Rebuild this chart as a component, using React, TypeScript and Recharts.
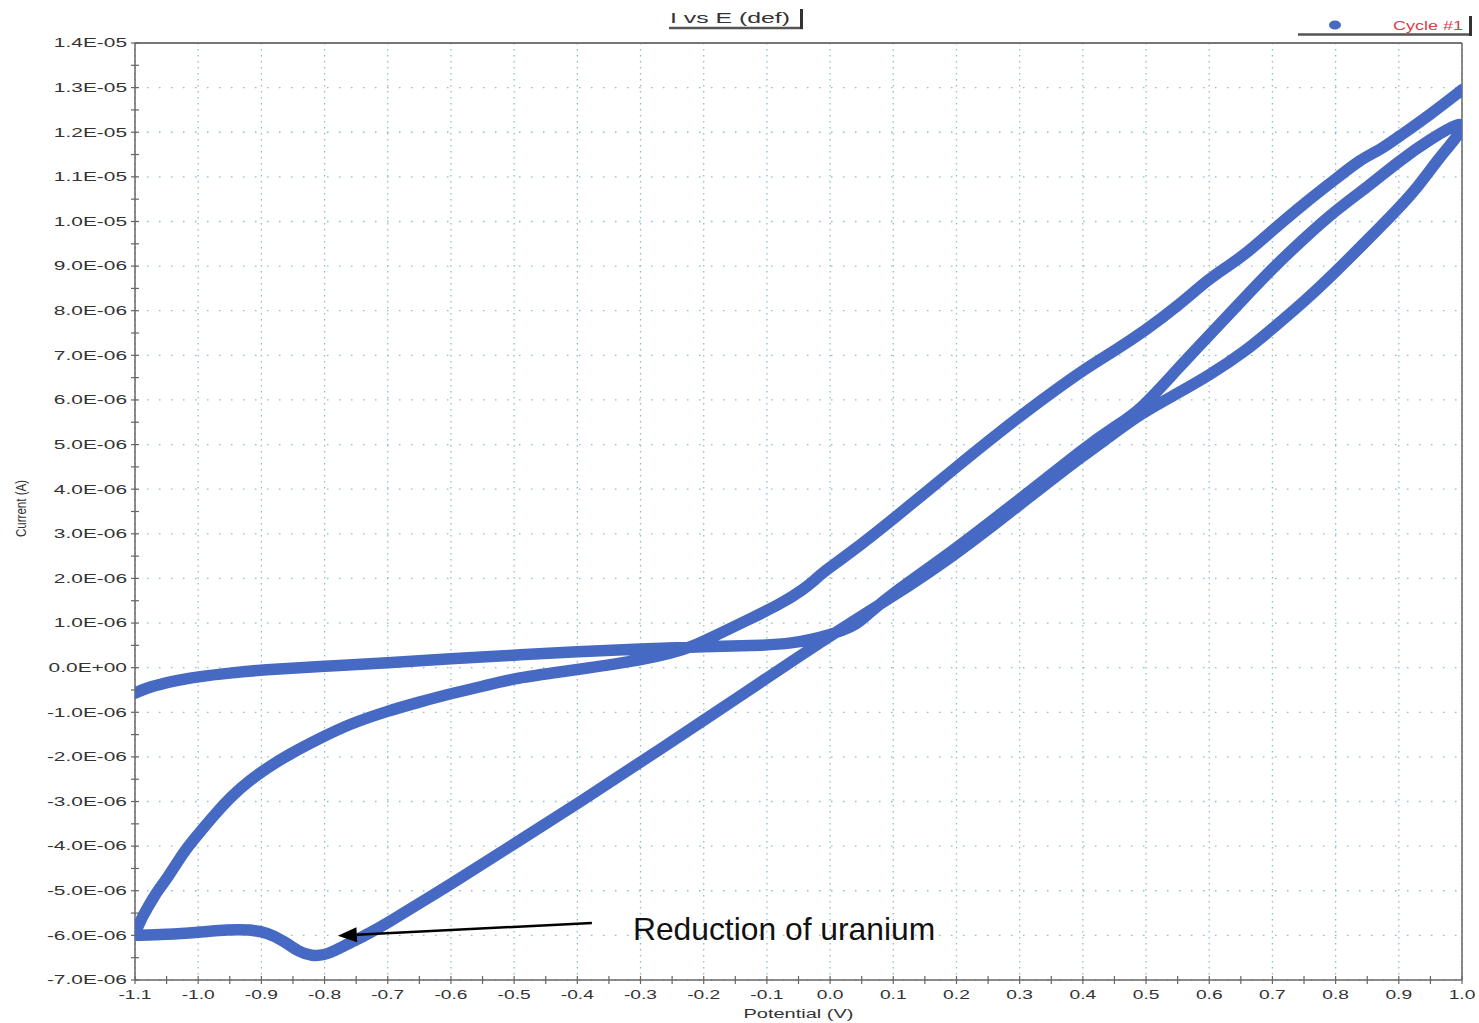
import React from "react";
import {
  CartesianGrid,
  Label,
  ReferenceDot,
  ReferenceLine,
  Scatter,
  ScatterChart,
  XAxis,
  YAxis,
} from "recharts";

const BLUE = "#4669c3";
const AXIS = "#666";
const GRID = "#8fbccb";
const FONT = '"Liberation Sans", Arial, sans-serif';

// potential in V, current in µA
// 1st sweep: from -1.1 V towards +1.0 V (flat branch, then middle line)
const SWEEP1_E = [
  -1.1, -1.08, -1.06, -1.03, -1.0, -0.95, -0.9, -0.8, -0.7, -0.6, -0.5, -0.4,
  -0.3, -0.2, -0.1, -0.06, -0.03, 0.0, 0.02, 0.04, 0.06, 0.1, 0.19, 0.27, 0.33,
  0.4, 0.45, 0.49, 0.55, 0.6, 0.65, 0.7, 0.75, 0.8, 0.85, 0.9, 0.95, 1.0,
];
const SWEEP1_I = [
  -0.57, -0.45, -0.37, -0.28, -0.2, -0.12, -0.05, 0.03, 0.11, 0.2, 0.28, 0.36,
  0.42, 0.47, 0.5, 0.55, 0.63, 0.74, 0.84, 0.95, 1.2, 1.68, 2.57, 3.45, 4.1,
  4.9, 5.4, 5.75, 6.7, 7.45, 8.2, 8.95, 9.62, 10.25, 10.77, 11.35, 11.85, 12.25,
];

// reverse sweep: +1.0 V back to -1.1 V (lowest line, uranium reduction dip)
const REVERSE_E = [
  1.0, 0.99, 0.965, 0.93, 0.9, 0.85, 0.8, 0.75, 0.7, 0.66, 0.6, 0.55, 0.49,
  0.45, 0.4, 0.33, 0.27, 0.19, 0.1, 0.0, -0.13, -0.27, -0.4, -0.5, -0.6, -0.65,
  -0.7, -0.73, -0.76, -0.785, -0.8, -0.82, -0.84, -0.865, -0.89, -0.92, -0.95,
  -1.0, -1.05, -1.1,
];
const REVERSE_I = [
  12.1, 11.85, 11.45, 10.77, 10.3, 9.58, 8.87, 8.2, 7.6, 7.12, 6.55, 6.15, 5.68,
  5.25, 4.75, 3.98, 3.32, 2.45, 1.6, 0.72, -0.52, -1.84, -3.05, -3.95, -4.85,
  -5.28, -5.72, -5.96, -6.17, -6.35, -6.44, -6.46, -6.38, -6.12, -5.94, -5.87,
  -5.87, -5.93, -5.98, -6.0,
];

// 2nd forward sweep: -1.1 V up to +1.0 V (steep branch, top line)
const RETURN_E = [
  -1.1, -1.097, -1.092, -1.087, -1.08, -1.072, -1.064, -1.049, -1.034, -1.018,
  -0.997, -0.97, -0.945, -0.918, -0.891, -0.86, -0.8, -0.76, -0.7, -0.65, -0.6,
  -0.55, -0.5, -0.44, -0.36, -0.3, -0.25, -0.22, -0.18, -0.13, -0.075, -0.04,
  -0.025, -0.015, 0.03, 0.1, 0.2, 0.27, 0.33, 0.4, 0.45, 0.5, 0.55, 0.6, 0.63,
  0.66, 0.7, 0.75, 0.8, 0.84, 0.87, 0.9, 0.95, 1.0,
];
const RETURN_I = [
  -6.0, -5.85, -5.7, -5.55, -5.38, -5.18, -5.0, -4.72, -4.38, -4.04, -3.68,
  -3.23, -2.85, -2.52, -2.25, -1.97, -1.53, -1.26, -0.97, -0.77, -0.58, -0.42,
  -0.24, -0.12, 0.04, 0.17, 0.33, 0.46, 0.73, 1.07, 1.45, 1.78, 1.95, 2.1, 2.55,
  3.33, 4.5, 5.3, 5.95, 6.67, 7.1, 7.57, 8.1, 8.72, 9.0, 9.3, 9.8, 10.4, 10.95,
  11.4, 11.6, 11.9, 12.4, 12.95,
];

const X_TICKS = [
  -1.1, -1.0, -0.9, -0.8, -0.7, -0.6, -0.5, -0.4, -0.3, -0.2, -0.1, 0.0, 0.1,
  0.2, 0.3, 0.4, 0.5, 0.6, 0.7, 0.8, 0.9, 1.0,
];
const Y_TICKS = [
  -7, -6, -5, -4, -3, -2, -1, 0, 1, 2, 3, 4, 5, 6, 7, 8, 9, 10, 11, 12, 13, 14,
];

const ARROW_FROM = { x: -0.377, y: -5.72 };
const ARROW_TO = { x: -0.779, y: -6.01 };
const NOTE = { x: -0.312, y: -6.1, text: "Reduction of uranium" };

const toRows = (e: number[], i: number[]) => e.map((x, k) => ({ x, y: i[k] }));
const LOOP = [
  ...toRows(SWEEP1_E, SWEEP1_I),
  ...toRows(REVERSE_E, REVERSE_I),
  ...toRows(RETURN_E, RETURN_I),
];

// minor ticks halfway between labelled ones
const halfSteps = (t: number[]) =>
  t.flatMap((v, k) => (k === 0 ? [v] : [(t[k - 1] + v) / 2, v]));
const X_ALL = halfSteps(X_TICKS);
const Y_ALL = halfSteps(Y_TICKS);
const isMajor = (v: number, list: number[]) =>
  list.some((t) => Math.abs(t - v) < 1e-9);

const fmtCurrent = (ua: number) => {
  if (Math.abs(ua) < 1e-9) return "0.0E+00";
  const big = Math.abs(ua) >= 10;
  return `${(big ? ua / 10 : ua).toFixed(1)}E-0${big ? 5 : 6}`;
};

// rough Arial advance widths, used to stretch the wide scanned tick font
const CHAR_W: Record<string, number> = { ".": 0.278, "-": 0.333, E: 0.667, "+": 0.584 };
const textW = (s: string, size: number) =>
  [...s].reduce((a, c) => a + (CHAR_W[c] ?? 0.556), 0) * size;

const YTick = (props: any) => {
  const { x, y, payload } = props;
  const axisX = x + 8;
  const label = fmtCurrent(payload.value);
  return (
    <g>
      <line x1={axisX - 4} x2={axisX + 4} y1={y} y2={y} stroke={AXIS} strokeWidth={1.2} />
      {isMajor(payload.value, Y_TICKS) && (
        <text
          x={x}
          y={y}
          dy="0.36em"
          textAnchor="end"
          fontFamily={FONT}
          fontSize={12}
          textLength={textW(label, 12) * 1.74}
          lengthAdjust="spacingAndGlyphs"
          fill="#333"
        >
          {label}
        </text>
      )}
    </g>
  );
};

const XTick = (props: any) => {
  const { x, y, payload } = props;
  const axisY = y - 10;
  const label = payload.value.toFixed(1);
  return (
    <g>
      <line x1={x} x2={x} y1={axisY - 4} y2={axisY + 4} stroke={AXIS} strokeWidth={1.2} />
      {isMajor(payload.value, X_TICKS) && (
        <text
          x={x}
          y={y}
          dy="0.71em"
          textAnchor="middle"
          fontFamily={FONT}
          fontSize={12}
          textLength={textW(label, 12) * 1.6}
          lengthAdjust="spacingAndGlyphs"
          fill="#333"
        >
          {label}
        </text>
      )}
    </g>
  );
};

const ArrowShape = (p: any) => {
  const { x1, y1, x2, y2 } = p;
  const ang = Math.atan2(y2 - y1, x2 - x1);
  const len = 19;
  const half = 7.5;
  const bx = x2 - len * Math.cos(ang);
  const by = y2 - len * Math.sin(ang);
  const px = -Math.sin(ang) * half;
  const py = Math.cos(ang) * half;
  return (
    <g>
      <line x1={x1} y1={y1} x2={bx} y2={by} stroke="#000" strokeWidth={2.5} />
      <polygon
        points={`${x2},${y2} ${bx + px},${by + py} ${bx - px},${by - py}`}
        fill="#000"
      />
    </g>
  );
};

const NoteText = (p: any) => (
  <text x={p.cx} y={p.cy} fontFamily={FONT} fontSize={31.8} fill="#111">
    {NOTE.text}
  </text>
);

const NoDot = () => <g />;

export default function App() {
  return (
    <div style={{ position: "absolute", left: 0, top: 0, width: 1479, height: 1023, background: "#fff" }}>
      <ScatterChart
        width={1479}
        height={1023}
        margin={{ top: 43, right: 17, bottom: 0, left: 0 }}
      >
        <CartesianGrid
          horizontal={false}
          verticalValues={X_TICKS}
          stroke={GRID}
          strokeWidth={1.3}
          strokeDasharray="1.5 4.5"
        />
        <CartesianGrid
          vertical={false}
          horizontalValues={Y_TICKS}
          stroke={GRID}
          strokeWidth={1.3}
          strokeDasharray="1.5 10.5"
        />
        <XAxis
          type="number"
          dataKey="x"
          domain={[-1.1, 1.0]}
          ticks={X_ALL}
          interval={0}
          allowDataOverflow
          height={43}
          tickSize={0}
          tickMargin={10}
          tickLine={false}
          axisLine={{ stroke: AXIS, strokeWidth: 1.5 }}
          tick={(p: any) => <XTick {...p} />}
        >
          <Label
            content={(p: any) => {
              const vb = p.viewBox;
              return (
                <text
                  x={vb.x + vb.width / 2}
                  y={vb.y + 38}
                  textAnchor="middle"
                  fontFamily={FONT}
                  fontSize={12.5}
                  textLength={110}
                  lengthAdjust="spacingAndGlyphs"
                  fill="#333"
                >
                  Potential (V)
                </text>
              );
            }}
          />
        </XAxis>
        <YAxis
          type="number"
          dataKey="y"
          domain={[-7, 14]}
          ticks={Y_ALL}
          interval={0}
          allowDataOverflow
          width={135}
          tickSize={0}
          tickMargin={8}
          tickLine={false}
          axisLine={{ stroke: AXIS, strokeWidth: 1.5 }}
          tick={(p: any) => <YTick {...p} />}
        >
          <Label
            content={(p: any) => {
              const vb = p.viewBox;
              const cx = vb.x + 21;
              const cy = vb.y + vb.height / 2 - 3;
              return (
                <text
                  x={cx}
                  y={cy}
                  transform={`rotate(-90 ${cx} ${cy})`}
                  textAnchor="middle"
                  dominantBaseline="central"
                  fontFamily={FONT}
                  fontSize={14.5}
                  textLength={57}
                  lengthAdjust="spacingAndGlyphs"
                  fill="#333"
                >
                  Current (A)
                </text>
              );
            }}
          />
        </YAxis>
        <ReferenceLine y={14} stroke="#777" strokeWidth={2} />
        <ReferenceLine x={1.0} stroke={AXIS} strokeWidth={1.5} />
        <Scatter
          data={LOOP}
          fill={BLUE}
          line={{ stroke: BLUE, strokeWidth: 11.5, strokeLinejoin: "round", strokeLinecap: "round" }}
          lineJointType="basis"
          shape={NoDot}
          isAnimationActive={false}
        />
        <ReferenceLine
          segment={[ARROW_FROM, ARROW_TO]}
          shape={ArrowShape}
          zIndex={1000}
        />
        <ReferenceDot x={NOTE.x} y={NOTE.y} r={0} shape={NoteText} zIndex={1000} />
      </ScatterChart>
      <svg
        width={1479}
        height={1023}
        style={{ position: "absolute", left: 0, top: 0, pointerEvents: "none" }}
      >
        <text
          x={670}
          y={23}
          fontFamily={FONT}
          fontSize={15.5}
          textLength={120}
          lengthAdjust="spacingAndGlyphs"
          fill="#333"
        >
          I vs E (def)
        </text>
        <line x1={669} x2={803} y1={28} y2={28} stroke="#555" strokeWidth={2.5} />
        <line x1={801.5} x2={801.5} y1={9} y2={29} stroke="#333" strokeWidth={3} />
        <ellipse cx={1335} cy={25} rx={6} ry={4.5} fill={BLUE} />
        <text
          x={1393}
          y={30}
          fontFamily={FONT}
          fontSize={12.5}
          textLength={70}
          lengthAdjust="spacingAndGlyphs"
          fill="#d8404a"
        >
          Cycle #1
        </text>
        <line x1={1298} x2={1472} y1={34.5} y2={34.5} stroke="#555" strokeWidth={2.5} />
        <line x1={1470.5} x2={1470.5} y1={16} y2={36} stroke="#333" strokeWidth={3} />
      </svg>
    </div>
  );
}
